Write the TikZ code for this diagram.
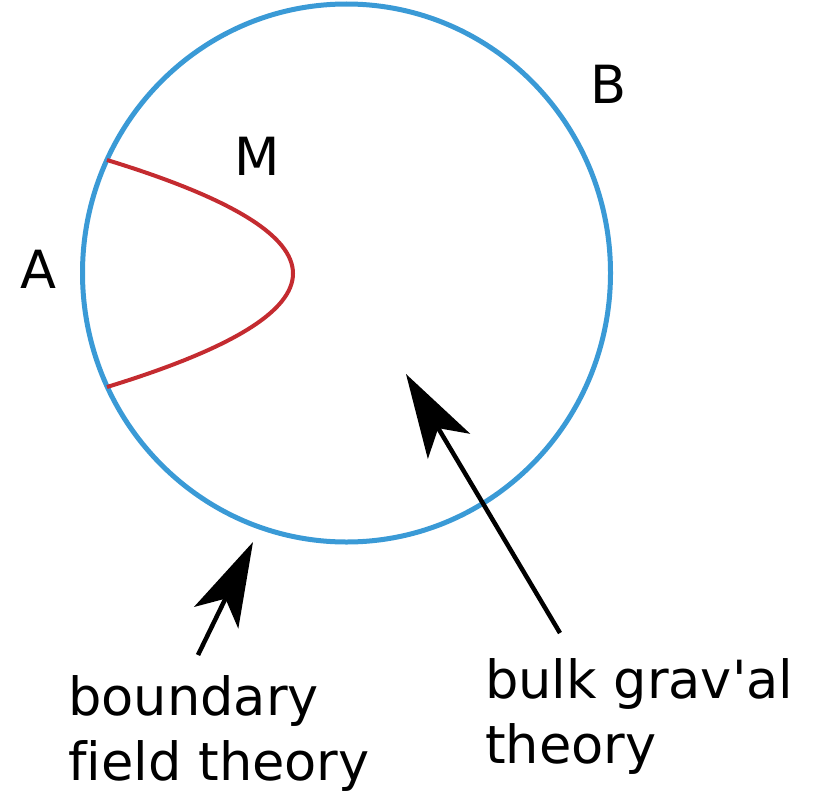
\documentclass[tikz,border=0pt]{standalone}
\usepackage{fontspec}
\setmainfont{DejaVu Sans}[Ligatures={TeX,NoCommon}]
\usetikzlibrary{arrows.meta}
\definecolor{bdblue}{HTML}{3A9AD6}
\definecolor{surfred}{HTML}{C42B30}

\begin{document}
\begin{tikzpicture}[x=1pt, y=-1pt,
  bigarrow/.style={black, line width=4.5pt,
    -{Stealth[length=84pt, width=49pt, inset=21pt]}},
  lbl/.style={inner sep=0pt, font=\fontsize{52.6}{65}\selectfont}]

% Canvas
\useasboundingbox (0,0) rectangle (813,792);

% ================================================================
% Boundary circle and the surface M
% ================================================================
\coordinate (ctr) at (346.5,273);
\draw[bdblue, line width=5pt] (ctr) ellipse [x radius=264, y radius=269];

% M bends inward from A and meets the boundary at two points
\coordinate (Mtop) at (107,160);
\coordinate (Mbot) at (107,387);
\draw[surfred, line width=4pt]
  (Mtop) .. controls (355,236) and (355,311) .. (Mbot);

% Letters
\node[lbl, anchor=base] (labA) at (38.5,288) {A};
\node[lbl, anchor=base] (labM) at (257,175) {M};
\node[lbl, anchor=base] (labB) at (609,103) {B};

% ================================================================
% Captions and arrows
% ================================================================
\node[lbl, anchor=base west, align=left] (bdry) at (68,780)
  {boundary\\field theory};
\node[lbl, anchor=base west, align=left] (bulk) at (485,763)
  {bulk grav\textquotesingle al\\theory};

\coordinate (bdrytail) at (198,655);
\coordinate (bdryhead) at (253,542);
\coordinate (bulktail) at (560,633);
\coordinate (bulkhead) at (406,374);

\draw[bigarrow] (bdrytail) -- (bdryhead);
\draw[bigarrow] (bulktail) -- (bulkhead);

\end{tikzpicture}
\end{document}
